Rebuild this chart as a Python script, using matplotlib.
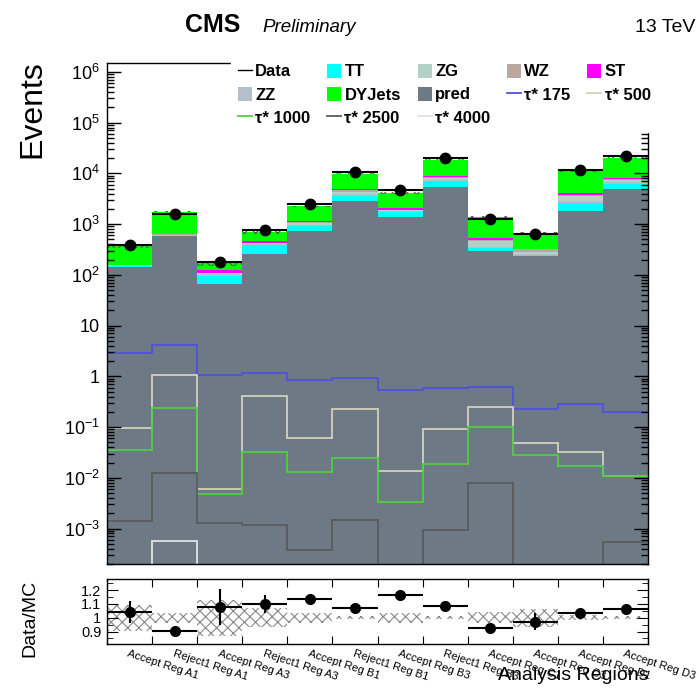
import numpy as np
import matplotlib
matplotlib.use('Agg')
import matplotlib.pyplot as plt
from matplotlib.ticker import FuncFormatter, LogLocator, NullFormatter, MultipleLocator, FixedLocator
from matplotlib.patches import Patch
from matplotlib.lines import Line2D

plt.rcParams['font.family'] = ['Liberation Sans', 'DejaVu Sans']
plt.rcParams['mathtext.fontset'] = 'custom'
plt.rcParams['mathtext.rm'] = 'Liberation Sans'
plt.rcParams['mathtext.it'] = 'Liberation Sans:italic'
plt.rcParams['hatch.linewidth'] = 0.8

# analysis regions (one bin each)
regions = ['Accept Reg A1', 'Reject1 Reg A1', 'Accept Reg A3', 'Reject1 Reg A3',
           'Accept Reg B1', 'Reject1 Reg B1', 'Accept Reg B3', 'Reject1 Reg B3',
           'Accept Reg C1', 'Accept Reg C3', 'Accept Reg D1', 'Accept Reg D3']

# backgrounds, stacked from the bottom
pred = [142, 585, 65, 258, 731, 2900, 1380, 5420, 292, 232, 1828, 4875]
tt = [7, 10, 32, 138, 187, 741, 386, 1610, 53, 19, 772, 1348]
zz = [2, 6, 8, 15, 60, 300, 50, 400, 10, 5, 200, 400]
zg = [4, 20, 3, 10, 80, 371, 60, 513, 106, 27, 790, 767]
wz = [2, 8, 2, 7, 30, 450, 30, 600, 20, 40, 150, 200]
st = [1, 3, 12, 33, 69, 113, 154, 167, 41, 7, 381, 614]
dyjets = [211, 1132, 47, 237, 1068, 5050, 2062, 9925, 847, 326, 6950, 12323]

data = [385, 1595, 182, 765, 2523, 10630, 4800, 20200, 1268, 637, 11470, 21800]

# signal hypotheses
tau175 = [2.94, 4.16, 1.08, 1.18, 0.83, 0.93, 0.53, 0.59, 0.625, 0.223, 0.284, 0.20]
tau500 = [0.095, 1.05, 0.0059, 0.415, 0.060, 0.226, 0.0137, 0.090, 0.251, 0.048, 0.0325, 0.011]
tau1000 = [0.0345, 0.24, 0.0047, 0.0325, 0.0131, 0.0247, 0.0033, 0.0185, 0.101, 0.0287, 0.0174, 0.0106]
tau2500 = [0.0014, 0.0123, 0.0013, 0.0012, 0.00038, 0.0015, 0, 0.00093, 0.0078, 0, 0, 0.00055]
tau4000 = [0, 0.00056, 0, 0, 0, 0, 0, 0, 0, 0, 0, 0]

# relative MC uncertainty and ratio errors
mc_relerr = [0.095, 0.035, 0.13, 0.07, 0.035, 0.01, 0.035, 0.01, 0.04, 0.065, 0.02, 0.01]
ratio_err = [0.08, 0.015, 0.13, 0.065, 0.02, 0.02, 0.015, 0.015, 0.03, 0.06, 0.015, 0.015]

nb = len(regions)
edges = np.arange(nb + 1)
centers = edges[:-1] + 0.5

fig = plt.figure(figsize=(6.99, 6.92), dpi=100)
ax = fig.add_axes([0.1531, 0.1850, 0.7740, 0.7240])
rax = fig.add_axes([0.1531, 0.0694, 0.7740, 0.0939])

stack = [('pred', pred, '#6d7a86'), ('TT', tt, '#00ffff'), ('ZZ', zz, '#b3bfca'),
         ('ZG', zg, '#b2d2c8'), ('WZ', wz, '#b9a7a0'), ('ST', st, '#ff00ff'),
         ('DYJets', dyjets, '#00ff00')]
bottom = np.zeros(nb)
handles = {}
for name, vals, col in stack:
    vals = np.array(vals, float)
    ax.bar(centers, vals, bottom=bottom, width=1.0, color=col, linewidth=0)
    bottom = bottom + vals
    handles[name] = Patch(facecolor=col, edgecolor='none')
total = bottom

relerr = np.array(mc_relerr)
ax.stairs(total * (1 + relerr), edges, baseline=total * (1 - relerr), fill=True,
          facecolor='none', edgecolor='#555555', hatch='xxx', linewidth=0)

signals = [('τ* 175', tau175, '#5050e0'), ('τ* 500', tau500, '#d6d0bc'),
           ('τ* 1000', tau1000, '#50d040'), ('τ* 2500', tau2500, '#5a5a5a'),
           ('τ* 4000', tau4000, '#e2e2e2')]
for name, vals, col in signals:
    vals = np.array(vals, float)
    vals = np.where(vals > 0, vals, 1e-6)
    ax.stairs(vals, edges, color=col, linewidth=1.3, baseline=None)
    handles[name] = Line2D([], [], color=col, linewidth=1.3)

data = np.array(data, float)
ax.errorbar(centers, data, xerr=0.5, yerr=np.sqrt(data), fmt='o', color='black',
            ms=7.5, elinewidth=1.5, capsize=0)
handles['Data'] = Line2D([], [], color='black', linewidth=1.0)

ax.set_yscale('log')
ax.set_xlim(0, nb)
ax.set_ylim(2e-4, 1.5e6)
ax.set_xticks([])


def pow_label(v, pos):
    n = int(round(np.log10(v)))
    if n == 0:
        return '1'
    if n == 1:
        return '10'
    return r'$10^{%d}$' % n


ax.yaxis.set_major_locator(LogLocator(base=10, numticks=20))
ax.yaxis.set_major_formatter(FuncFormatter(pow_label))
ax.yaxis.set_minor_locator(LogLocator(base=10, subs=np.arange(2, 10), numticks=20))
ax.yaxis.set_minor_formatter(NullFormatter())
ax.tick_params(axis='y', which='both', direction='in', left=True, right=True, labelsize=13, pad=5)
ax.tick_params(axis='y', which='major', length=10, width=1)
ax.tick_params(axis='y', which='minor', length=5, width=1)
for sp in ax.spines.values():
    sp.set_linewidth(1.0)

order = ['Data', 'ZZ', 'τ* 1000', 'TT', 'DYJets', 'τ* 2500', 'ZG', 'pred', 'τ* 4000',
         'WZ', 'τ* 175', 'ST', 'τ* 500']
leg = ax.legend([handles[k] for k in order], order, ncol=5, loc='upper left',
                bbox_to_anchor=(231 / 699, 1 - 57 / 692), bbox_transform=fig.transFigure,
                borderaxespad=0, borderpad=0.4, frameon=True, fancybox=False,
                facecolor='white', edgecolor='white', framealpha=1,
                prop={'weight': 'bold', 'size': 12}, handlelength=0.85, handleheight=0.9,
                handletextpad=0.2, columnspacing=1.0, labelspacing=0.45)

# ratio panel
ratio = data / total
rax.stairs(1 + relerr, edges, baseline=1 - relerr, fill=True, facecolor='none',
           edgecolor='#888888', hatch='xxx', linewidth=0)
rax.errorbar(centers, ratio, xerr=0.5, yerr=ratio_err, fmt='o', color='black',
             ms=7, elinewidth=1.5, capsize=0)
rax.set_xlim(0, nb)
rax.set_ylim(0.81, 1.28)
rax.yaxis.set_major_locator(MultipleLocator(0.1))
rax.yaxis.set_minor_locator(MultipleLocator(0.05))
rax.yaxis.set_major_formatter(FuncFormatter(lambda v, p: '%g' % round(v, 2)))
rax.tick_params(axis='y', which='both', direction='in', left=True, right=True, labelsize=10.5, pad=4)
rax.tick_params(axis='y', which='major', length=8)
rax.tick_params(axis='y', which='minor', length=4)
rax.xaxis.set_major_locator(FixedLocator(edges))
rax.xaxis.set_major_formatter(NullFormatter())
rax.xaxis.set_minor_locator(FixedLocator(centers))
rax.set_xticklabels(regions, minor=True, rotation=-18, ha='left', va='top',
                    rotation_mode='anchor', fontsize=8)
rax.tick_params(axis='x', which='major', direction='in', top=True, bottom=True, length=6)
rax.tick_params(axis='x', which='minor', length=0, pad=3)
for sp in rax.spines.values():
    sp.set_linewidth(1.0)

fig.text(32 / 699, 1 - 60 / 692, 'Events', rotation=90, ha='center', va='top', fontsize=23)
fig.text(30 / 699, 1 - 618 / 692, 'Data/MC', rotation=90, ha='center', va='center', fontsize=14)
fig.text(648 / 699, 1 - 680 / 692, 'Analysis Regions', ha='right', va='baseline', fontsize=14)
fig.text(185 / 699, 1 - 32 / 692, 'CMS', ha='left', va='baseline', fontsize=18, weight='bold')
fig.text(262 / 699, 1 - 32 / 692, 'Preliminary', ha='left', va='baseline', fontsize=13.5, style='italic')
fig.text(695 / 699, 1 - 32 / 692, '13 TeV', ha='right', va='baseline', fontsize=14)

fig.savefig('out.png', dpi=100)
